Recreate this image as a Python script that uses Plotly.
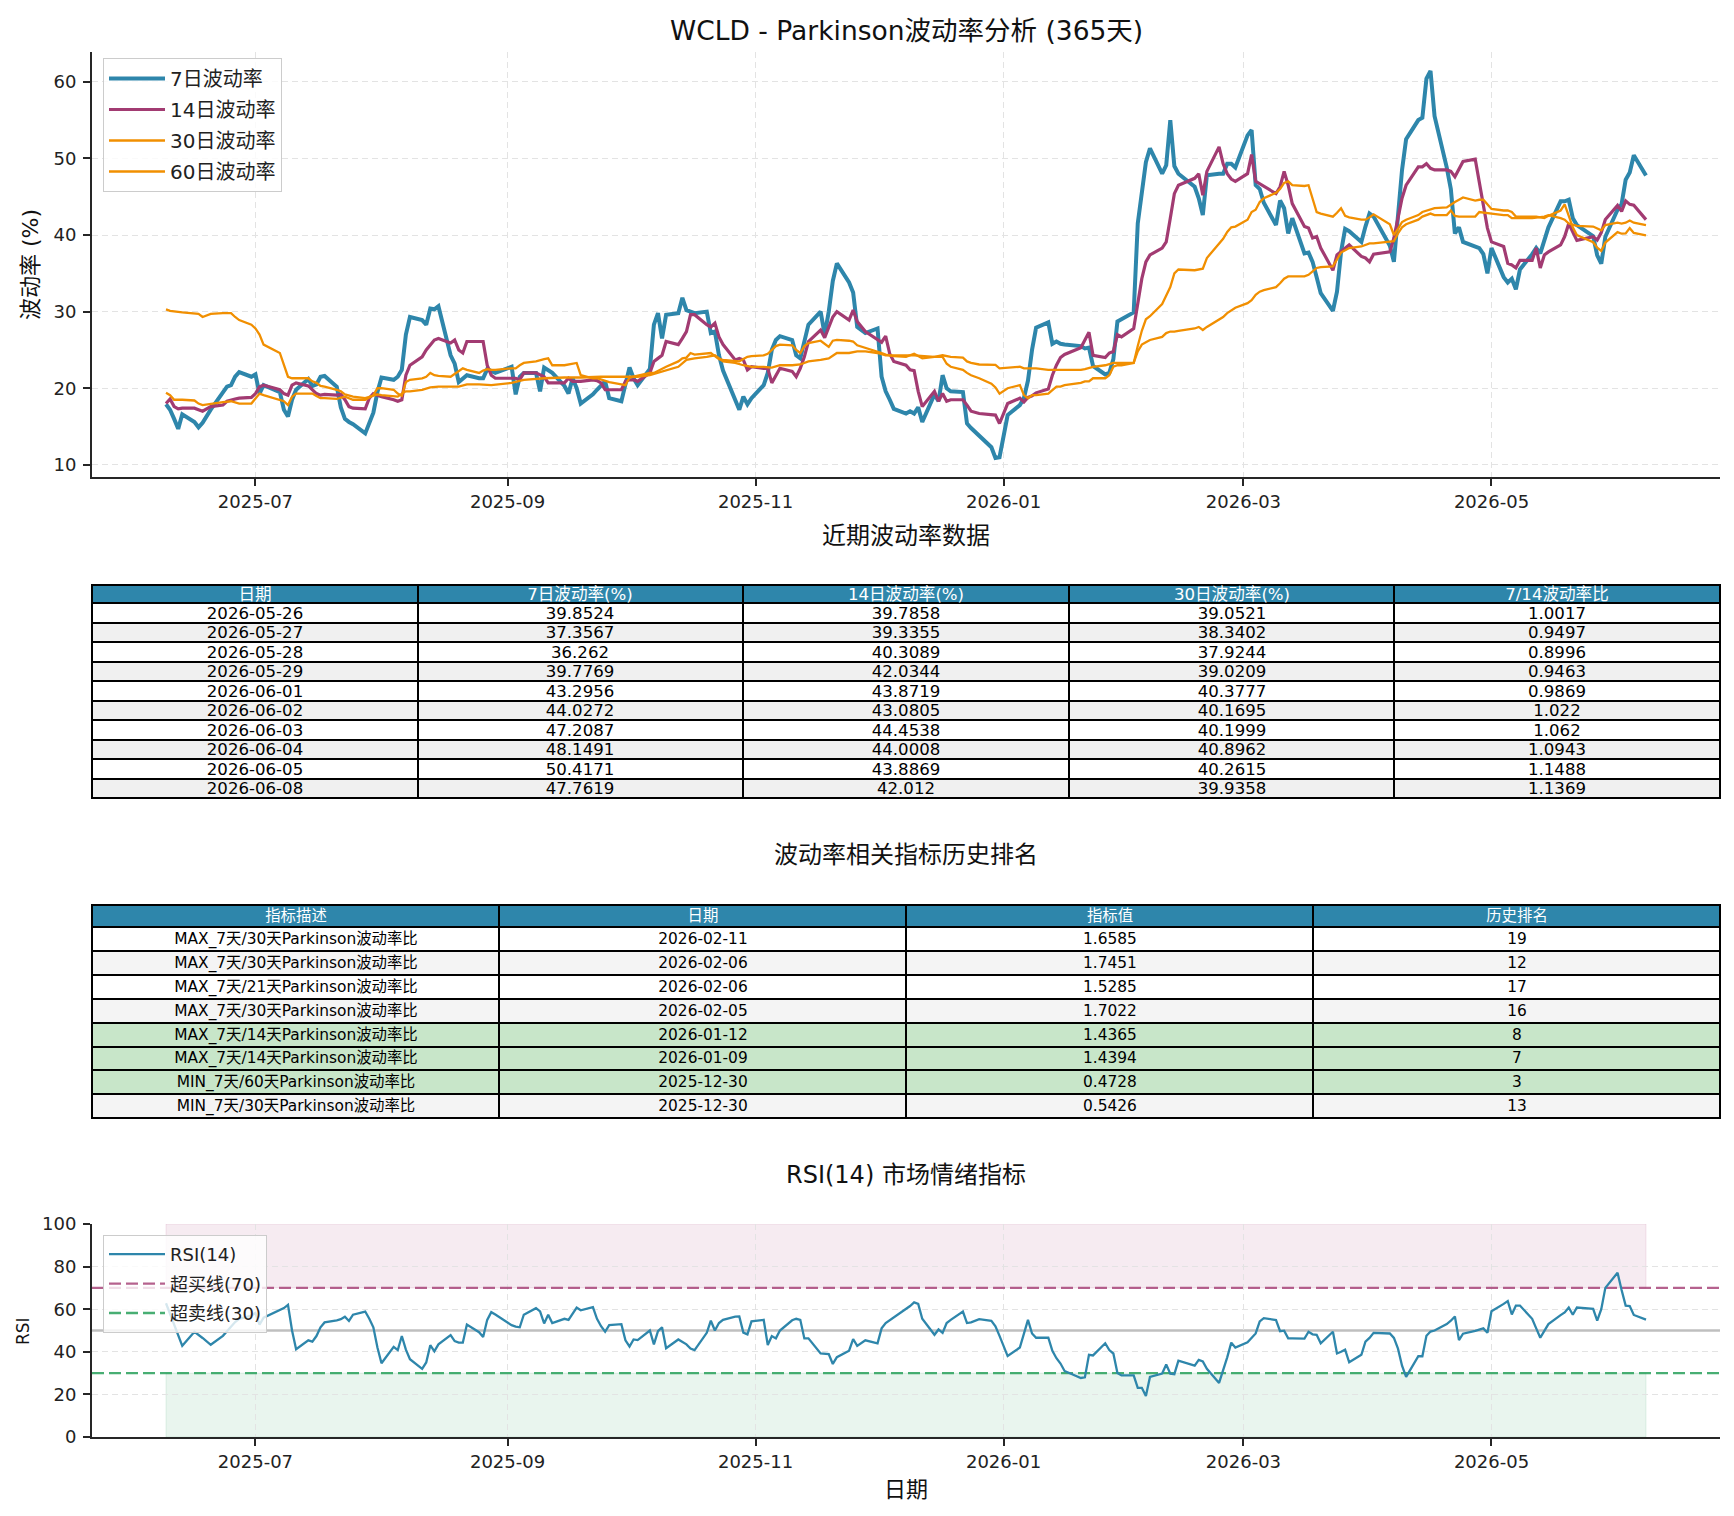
import pandas as pd
import plotly.graph_objects as go

FONT = "DejaVu Sans, Noto Sans CJK SC, sans-serif"

# ---------------- data ----------------
vol7 = [
("2025-06-09",17.9),("2025-06-10",17.2),("2025-06-11",16.0),("2025-06-12",14.7),("2025-06-13",16.6),
("2025-06-16",15.6),("2025-06-17",14.9),("2025-06-18",15.5),("2025-06-20",17.2),("2025-06-23",19.6),
("2025-06-24",20.2),("2025-06-25",20.4),("2025-06-26",21.5),("2025-06-27",22.1),("2025-06-30",21.5),
("2025-07-01",21.8),("2025-07-02",19.3),("2025-07-03",20.4),("2025-07-07",19.5),("2025-07-08",17.2),
("2025-07-09",16.3),("2025-07-10",18.5),("2025-07-11",19.8),("2025-07-14",21.2),("2025-07-15",20.3),
("2025-07-16",20.5),("2025-07-17",21.5),("2025-07-18",21.6),("2025-07-21",20.2),("2025-07-22",17.5),
("2025-07-23",16.0),("2025-07-24",15.6),("2025-07-25",15.3),("2025-07-28",14.1),("2025-07-29",15.5),
("2025-07-30",16.8),("2025-07-31",19.5),("2025-08-01",21.4),("2025-08-04",21.1),("2025-08-05",21.5),
("2025-08-06",22.4),("2025-08-07",27.0),("2025-08-08",29.3),("2025-08-11",28.9),("2025-08-12",28.3),
("2025-08-13",30.4),("2025-08-14",30.3),("2025-08-15",30.7),("2025-08-18",24.3),("2025-08-19",23.2),
("2025-08-20",20.8),("2025-08-21",21.2),("2025-08-22",21.7),("2025-08-25",21.3),("2025-08-26",21.3),
("2025-08-27",22.5),("2025-08-28",22.2),("2025-08-29",22.0),("2025-09-02",22.8),("2025-09-03",19.2),
("2025-09-04",21.5),("2025-09-05",22.0),("2025-09-08",22.0),("2025-09-09",19.6),("2025-09-10",22.7),
("2025-09-11",22.4),("2025-09-12",22.0),("2025-09-15",20.3),("2025-09-16",19.3),("2025-09-17",21.3),
("2025-09-18",20.0),("2025-09-19",18.0),("2025-09-22",19.2),("2025-09-23",19.8),("2025-09-24",20.4),
("2025-09-25",20.9),("2025-09-26",18.7),("2025-09-29",18.3),("2025-09-30",20.5),("2025-10-01",22.7),
("2025-10-02",21.3),("2025-10-03",20.4),("2025-10-06",22.5),("2025-10-07",28.3),("2025-10-08",29.8),
("2025-10-09",26.5),("2025-10-10",29.6),("2025-10-13",29.8),("2025-10-14",31.8),("2025-10-15",30.2),
("2025-10-16",30.0),("2025-10-17",29.8),("2025-10-20",30.0),("2025-10-21",27.2),("2025-10-22",27.4),
("2025-10-23",24.3),("2025-10-24",22.3),("2025-10-27",18.5),("2025-10-28",17.2),("2025-10-29",18.9),
("2025-10-30",17.9),("2025-10-31",18.7),("2025-11-03",20.4),("2025-11-04",22.0),("2025-11-05",25.0),
("2025-11-06",26.3),("2025-11-07",26.8),("2025-11-10",26.3),("2025-11-11",24.3),("2025-11-12",23.9),
("2025-11-13",26.0),("2025-11-14",28.3),("2025-11-17",30.0),("2025-11-18",27.0),("2025-11-19",30.0),
("2025-11-20",34.0),("2025-11-21",36.3),("2025-11-24",33.8),("2025-11-25",32.5),("2025-11-26",28.0),
("2025-11-28",27.2),("2025-12-01",27.8),("2025-12-02",21.5),("2025-12-03",19.6),("2025-12-04",18.5),
("2025-12-05",17.3),("2025-12-08",16.7),("2025-12-09",17.0),("2025-12-10",16.7),("2025-12-11",17.5),
("2025-12-12",15.6),("2025-12-15",19.2),("2025-12-16",18.3),("2025-12-17",21.7),("2025-12-18",20.0),
("2025-12-19",19.6),("2025-12-22",19.5),("2025-12-23",15.4),("2025-12-24",14.8),("2025-12-26",13.8),
("2025-12-29",12.3),("2025-12-30",10.9),("2025-12-31",11.0),("2026-01-02",16.5),("2026-01-05",17.8),
("2026-01-06",18.7),("2026-01-07",21.0),("2026-01-08",25.0),("2026-01-09",27.9),("2026-01-12",28.6),
("2026-01-13",25.8),("2026-01-14",26.1),("2026-01-15",25.8),("2026-01-16",25.7),("2026-01-20",25.5),
("2026-01-21",25.2),("2026-01-22",25.3),("2026-01-23",22.9),("2026-01-26",21.8),("2026-01-27",22.0),
("2026-01-28",23.8),("2026-01-29",28.7),("2026-01-30",29.0),("2026-02-02",29.9),("2026-02-03",41.5),
("2026-02-04",46.0),("2026-02-05",49.5),("2026-02-06",51.3),("2026-02-09",48.0),("2026-02-10",49.1),
("2026-02-11",55.0),("2026-02-12",49.0),("2026-02-13",48.0),("2026-02-17",46.3),("2026-02-18",44.8),
("2026-02-19",42.6),("2026-02-20",47.8),("2026-02-23",48.0),("2026-02-24",48.0),("2026-02-25",49.3),
("2026-02-26",49.3),("2026-02-27",48.8),("2026-03-02",53.0),("2026-03-03",53.7),("2026-03-04",46.5),
("2026-03-05",46.0),("2026-03-06",44.2),("2026-03-09",41.3),("2026-03-10",44.5),("2026-03-11",43.5),
("2026-03-12",40.2),("2026-03-13",42.2),("2026-03-16",37.6),("2026-03-17",37.7),("2026-03-18",36.5),
("2026-03-19",34.5),("2026-03-20",32.4),("2026-03-23",30.1),("2026-03-24",32.6),("2026-03-25",37.8),
("2026-03-26",40.8),("2026-03-27",40.5),("2026-03-30",39.1),("2026-03-31",41.1),("2026-04-01",42.8),
("2026-04-02",42.4),("2026-04-06",38.6),("2026-04-07",36.5),("2026-04-08",42.5),("2026-04-09",48.5),
("2026-04-10",52.5),("2026-04-13",55.0),("2026-04-14",55.3),("2026-04-15",60.4),("2026-04-16",61.4),
("2026-04-17",55.5),("2026-04-20",48.8),("2026-04-21",46.0),("2026-04-22",40.2),("2026-04-23",41.0),
("2026-04-24",39.1),("2026-04-27",38.6),("2026-04-28",38.3),("2026-04-29",37.5),("2026-04-30",35.0),
("2026-05-01",38.3),("2026-05-04",34.5),("2026-05-05",33.8),("2026-05-06",34.3),("2026-05-07",32.9),
("2026-05-08",35.5),("2026-05-11",37.5),("2026-05-12",38.3),("2026-05-13",37.6),("2026-05-14",39.5),
("2026-05-15",41.0),("2026-05-18",44.4),("2026-05-19",44.4),("2026-05-20",44.6),("2026-05-21",42.2),
("2026-05-22",41.3),("2026-05-26",39.8524),("2026-05-27",37.3567),("2026-05-28",36.262),
("2026-05-29",39.7769),("2026-06-01",43.2956),("2026-06-02",44.0272),("2026-06-03",47.2087),
("2026-06-04",48.1491),("2026-06-05",50.4171),("2026-06-08",47.7619),
]

vol14 = [
("2025-06-09",18.0),("2025-06-10",18.6),("2025-06-11",17.6),("2025-06-12",17.3),("2025-06-13",17.4),
("2025-06-16",17.4),("2025-06-17",17.2),("2025-06-18",17.0),("2025-06-20",17.6),("2025-06-23",17.8),
("2025-06-24",18.3),("2025-06-25",18.5),("2025-06-26",18.6),("2025-06-27",18.7),("2025-06-30",18.8),
("2025-07-01",19.3),("2025-07-02",20.2),("2025-07-03",20.4),("2025-07-07",19.8),("2025-07-08",19.3),
("2025-07-09",19.1),("2025-07-10",20.4),("2025-07-11",20.7),("2025-07-14",20.3),("2025-07-15",19.8),
("2025-07-16",19.3),("2025-07-17",19.1),("2025-07-18",19.2),("2025-07-21",19.1),("2025-07-22",19.2),
("2025-07-23",18.5),("2025-07-24",17.6),("2025-07-25",17.4),("2025-07-28",17.3),("2025-07-29",18.7),
("2025-07-30",19.3),("2025-07-31",19.1),("2025-08-01",18.9),("2025-08-04",18.5),("2025-08-05",18.3),
("2025-08-06",18.5),("2025-08-07",21.7),("2025-08-08",23.0),("2025-08-11",24.1),("2025-08-12",25.0),
("2025-08-13",25.7),("2025-08-14",26.3),("2025-08-15",26.5),("2025-08-18",25.9),("2025-08-19",26.3),
("2025-08-20",25.0),("2025-08-21",24.6),("2025-08-22",26.1),("2025-08-25",26.1),("2025-08-26",26.1),
("2025-08-27",23.0),("2025-08-28",21.7),("2025-08-29",21.3),("2025-09-02",21.3),("2025-09-03",21.3),
("2025-09-04",21.1),("2025-09-05",22.0),("2025-09-08",22.0),("2025-09-09",21.7),("2025-09-10",21.5),
("2025-09-11",20.7),("2025-09-12",20.7),("2025-09-15",20.7),("2025-09-16",21.3),("2025-09-17",20.9),
("2025-09-18",20.9),("2025-09-19",20.9),("2025-09-22",21.1),("2025-09-23",21.0),("2025-09-24",20.7),
("2025-09-25",19.8),("2025-09-26",19.8),("2025-09-29",19.8),("2025-09-30",20.9),("2025-10-01",21.1),
("2025-10-02",21.1),("2025-10-03",20.9),("2025-10-06",22.0),("2025-10-07",23.5),("2025-10-08",23.9),
("2025-10-09",24.3),("2025-10-10",26.1),("2025-10-13",25.7),("2025-10-14",26.5),("2025-10-15",27.4),
("2025-10-16",29.6),("2025-10-17",29.6),("2025-10-20",28.3),("2025-10-21",28.0),("2025-10-22",28.5),
("2025-10-23",26.7),("2025-10-24",25.7),("2025-10-27",23.7),("2025-10-28",23.9),("2025-10-29",23.7),
("2025-10-30",22.4),("2025-10-31",22.8),("2025-11-03",22.6),("2025-11-04",22.6),("2025-11-05",20.7),
("2025-11-06",21.7),("2025-11-07",22.6),("2025-11-10",22.2),("2025-11-11",21.5),("2025-11-12",22.6),
("2025-11-13",24.1),("2025-11-14",26.1),("2025-11-17",27.6),("2025-11-18",26.6),("2025-11-19",28.0),
("2025-11-20",29.3),("2025-11-21",30.0),("2025-11-24",28.9),("2025-11-25",30.2),("2025-11-26",28.7),
("2025-11-28",27.4),("2025-12-01",26.3),("2025-12-02",26.0),("2025-12-03",26.8),("2025-12-04",24.5),
("2025-12-05",23.5),("2025-12-08",23.0),("2025-12-09",22.4),("2025-12-10",22.3),("2025-12-11",19.6),
("2025-12-12",17.6),("2025-12-15",19.6),("2025-12-16",18.3),("2025-12-17",19.3),("2025-12-18",18.3),
("2025-12-19",18.5),("2025-12-22",18.5),("2025-12-23",17.8),("2025-12-24",17.0),("2025-12-26",16.7),
("2025-12-29",16.6),("2025-12-30",16.5),("2025-12-31",15.4),("2026-01-02",18.0),("2026-01-05",18.7),
("2026-01-06",18.2),("2026-01-07",18.8),("2026-01-08",19.0),("2026-01-09",19.4),("2026-01-12",19.9),
("2026-01-13",21.7),("2026-01-14",23.0),("2026-01-15",24.0),("2026-01-16",24.4),("2026-01-20",25.3),
("2026-01-21",26.3),("2026-01-22",27.3),("2026-01-23",24.3),("2026-01-26",24.0),("2026-01-27",24.6),
("2026-01-28",24.8),("2026-01-29",27.0),("2026-01-30",26.7),("2026-02-02",27.8),("2026-02-03",31.3),
("2026-02-04",34.3),("2026-02-05",36.5),("2026-02-06",37.4),("2026-02-09",38.3),("2026-02-10",39.1),
("2026-02-11",42.2),("2026-02-12",45.4),("2026-02-13",46.5),("2026-02-17",47.4),("2026-02-18",48.0),
("2026-02-19",45.2),("2026-02-20",48.3),("2026-02-23",51.5),("2026-02-24",49.3),("2026-02-25",48.0),
("2026-02-26",47.3),("2026-02-27",47.0),("2026-03-02",48.0),("2026-03-03",50.5),("2026-03-04",47.0),
("2026-03-05",46.7),("2026-03-06",46.3),("2026-03-09",45.4),("2026-03-10",46.3),("2026-03-11",48.3),
("2026-03-12",46.5),("2026-03-13",44.1),("2026-03-16",41.1),("2026-03-17",40.9),("2026-03-18",39.6),
("2026-03-19",39.8),("2026-03-20",38.3),("2026-03-23",35.4),("2026-03-24",37.4),("2026-03-25",37.8),
("2026-03-26",38.3),("2026-03-27",38.7),("2026-03-30",37.2),("2026-03-31",37.0),("2026-04-01",36.5),
("2026-04-02",37.5),("2026-04-06",37.8),("2026-04-07",39.6),("2026-04-08",42.2),("2026-04-09",44.8),
("2026-04-10",46.5),("2026-04-13",48.9),("2026-04-14",48.9),("2026-04-15",49.3),("2026-04-16",48.7),
("2026-04-17",48.5),("2026-04-20",48.5),("2026-04-21",48.3),("2026-04-22",47.6),("2026-04-23",48.5),
("2026-04-24",49.6),("2026-04-27",49.9),("2026-04-28",47.0),("2026-04-29",43.9),("2026-04-30",40.9),
("2026-05-01",39.1),("2026-05-04",38.5),("2026-05-05",36.3),("2026-05-06",36.1),("2026-05-07",35.7),
("2026-05-08",36.7),("2026-05-11",36.7),("2026-05-12",38.3),("2026-05-13",35.7),("2026-05-14",37.4),
("2026-05-15",37.8),("2026-05-18",38.7),("2026-05-19",39.8),("2026-05-20",41.5),("2026-05-21",40.4),
("2026-05-22",39.3),("2026-05-26",39.7858),("2026-05-27",39.3355),("2026-05-28",40.3089),
("2026-05-29",42.0344),("2026-06-01",43.8719),("2026-06-02",43.0805),("2026-06-03",44.4538),
("2026-06-04",44.0008),("2026-06-05",43.8869),("2026-06-08",42.012),
]

vol30 = [
("2025-06-09",19.4),("2025-06-10",19.1),("2025-06-11",18.5),("2025-06-12",18.5),("2025-06-13",18.5),
("2025-06-16",18.4),("2025-06-17",18.0),("2025-06-18",17.8),("2025-06-20",18.0),("2025-06-23",18.2),
("2025-06-25",18.3),("2025-06-27",18.0),("2025-06-30",18.0),("2025-07-01",18.7),("2025-07-02",19.3),
("2025-07-03",19.1),("2025-07-07",18.5),("2025-07-08",18.3),("2025-07-09",17.8),("2025-07-10",18.9),
("2025-07-11",19.3),("2025-07-14",19.3),("2025-07-15",19.3),("2025-07-16",19.0),("2025-07-17",18.7),
("2025-07-18",18.7),("2025-07-21",18.6),("2025-07-23",18.9),("2025-07-24",18.7),("2025-07-25",18.5),
("2025-07-28",18.5),("2025-07-29",18.8),("2025-07-30",19.1),("2025-07-31",20.0),("2025-08-01",20.0),
("2025-08-04",19.8),("2025-08-05",19.3),("2025-08-06",19.0),("2025-08-07",20.8),("2025-08-08",21.1),
("2025-08-11",21.3),("2025-08-12",21.5),("2025-08-13",22.0),("2025-08-14",21.7),("2025-08-15",21.6),
("2025-08-18",21.5),("2025-08-19",21.9),("2025-08-20",22.3),("2025-08-21",22.6),("2025-08-22",22.4),
("2025-08-25",22.0),("2025-08-26",22.3),("2025-08-27",22.5),("2025-08-28",22.4),("2025-08-29",22.4),
("2025-09-02",22.6),("2025-09-03",22.6),("2025-09-04",23.0),("2025-09-05",23.3),("2025-09-08",23.5),
("2025-09-09",23.7),("2025-09-10",23.8),("2025-09-11",23.9),("2025-09-12",23.0),("2025-09-15",23.0),
("2025-09-16",23.1),("2025-09-17",23.2),("2025-09-18",23.3),("2025-09-19",21.7),("2025-09-22",21.3),
("2025-09-23",21.3),("2025-09-24",21.1),("2025-09-25",20.9),("2025-09-26",20.8),("2025-09-29",20.5),
("2025-09-30",20.4),("2025-10-01",21.4),("2025-10-02",21.5),("2025-10-03",21.7),("2025-10-06",22.0),
("2025-10-07",22.0),("2025-10-08",22.3),("2025-10-09",22.6),("2025-10-10",22.8),("2025-10-13",23.5),
("2025-10-14",23.9),("2025-10-15",24.0),("2025-10-16",24.6),("2025-10-17",24.4),("2025-10-20",24.5),
("2025-10-21",24.6),("2025-10-22",24.2),("2025-10-23",23.8),("2025-10-24",23.7),("2025-10-27",23.5),
("2025-10-28",23.5),("2025-10-29",23.8),("2025-10-30",24.1),("2025-10-31",24.2),("2025-11-03",24.3),
("2025-11-04",24.5),("2025-11-05",25.0),("2025-11-06",25.5),("2025-11-07",25.7),("2025-11-10",25.6),
("2025-11-11",25.0),("2025-11-12",24.6),("2025-11-13",25.5),("2025-11-14",25.9),("2025-11-17",26.2),
("2025-11-18",25.8),("2025-11-19",25.4),("2025-11-20",26.2),("2025-11-21",26.3),("2025-11-24",26.2),
("2025-11-25",26.1),("2025-11-26",25.6),("2025-11-28",25.3),("2025-12-01",24.8),("2025-12-02",24.6),
("2025-12-03",24.4),("2025-12-04",24.3),("2025-12-05",24.2),("2025-12-08",24.1),("2025-12-10",24.5),
("2025-12-12",23.9),("2025-12-15",24.1),("2025-12-17",24.1),("2025-12-18",23.2),("2025-12-19",22.8),
("2025-12-22",22.4),("2025-12-23",22.0),("2025-12-24",21.7),("2025-12-26",21.3),("2025-12-29",20.6),
("2025-12-30",20.1),("2025-12-31",19.3),("2026-01-02",20.0),("2026-01-05",20.4),("2026-01-06",19.1),
("2026-01-07",18.7),("2026-01-08",19.1),("2026-01-09",19.1),("2026-01-12",19.3),("2026-01-13",19.8),
("2026-01-14",20.2),("2026-01-15",20.2),("2026-01-16",20.4),("2026-01-20",20.7),("2026-01-21",20.9),
("2026-01-22",20.9),("2026-01-23",21.3),("2026-01-26",21.3),("2026-01-27",21.7),("2026-01-28",22.8),
("2026-01-29",23.0),("2026-01-30",23.0),("2026-02-02",23.3),("2026-02-03",25.5),("2026-02-04",27.5),
("2026-02-05",29.0),("2026-02-06",29.4),("2026-02-09",31.0),("2026-02-10",32.0),("2026-02-11",33.2),
("2026-02-12",35.0),("2026-02-13",35.5),("2026-02-17",35.4),("2026-02-18",35.5),("2026-02-19",35.6),
("2026-02-20",37.0),("2026-02-23",38.9),("2026-02-24",39.5),("2026-02-25",40.4),("2026-02-26",41.0),
("2026-02-27",41.1),("2026-03-02",42.0),("2026-03-03",43.0),("2026-03-04",43.3),("2026-03-05",44.3),
("2026-03-06",44.8),("2026-03-09",45.5),("2026-03-10",46.0),("2026-03-11",46.8),("2026-03-12",47.0),
("2026-03-13",46.5),("2026-03-16",46.4),("2026-03-17",46.5),("2026-03-18",44.6),("2026-03-19",43.0),
("2026-03-20",42.8),("2026-03-23",42.4),("2026-03-24",42.9),("2026-03-25",43.5),("2026-03-26",42.5),
("2026-03-27",42.3),("2026-03-30",42.0),("2026-03-31",42.0),("2026-04-01",42.3),("2026-04-02",42.7),
("2026-04-06",41.4),("2026-04-07",40.0),("2026-04-08",40.8),("2026-04-09",41.7),("2026-04-10",42.0),
("2026-04-13",42.6),("2026-04-14",43.0),("2026-04-15",43.2),("2026-04-16",43.4),("2026-04-17",43.5),
("2026-04-20",43.6),("2026-04-21",44.0),("2026-04-22",44.3),("2026-04-23",44.6),("2026-04-24",44.9),
("2026-04-27",44.5),("2026-04-28",44.6),("2026-04-29",44.6),("2026-04-30",44.0),("2026-05-01",43.4),
("2026-05-04",43.2),("2026-05-05",43.2),("2026-05-06",43.0),("2026-05-07",42.4),("2026-05-08",42.4),
("2026-05-11",42.4),("2026-05-12",42.4),("2026-05-13",42.3),("2026-05-14",42.2),("2026-05-15",42.5),
("2026-05-18",43.2),("2026-05-19",44.0),("2026-05-20",42.5),("2026-05-21",41.0),("2026-05-22",40.0),
("2026-05-26",39.0521),("2026-05-27",38.3402),("2026-05-28",37.9244),("2026-05-29",39.0209),
("2026-06-01",40.3777),("2026-06-02",40.1695),("2026-06-03",40.1999),("2026-06-04",40.8962),
("2026-06-05",40.2615),("2026-06-08",39.9358),
]

vol60 = [
("2025-06-09",30.3),("2025-06-10",30.1),("2025-06-13",29.9),("2025-06-17",29.7),("2025-06-18",29.3),
("2025-06-20",29.7),("2025-06-23",29.8),("2025-06-25",29.8),("2025-06-26",29.3),("2025-06-27",28.9),
("2025-06-30",28.3),("2025-07-01",27.8),("2025-07-02",27.0),("2025-07-03",25.7),("2025-07-07",24.6),
("2025-07-08",23.0),("2025-07-09",21.5),("2025-07-10",21.3),("2025-07-11",21.3),("2025-07-14",21.3),
("2025-07-15",20.9),("2025-07-16",20.7),("2025-07-17",20.3),("2025-07-18",20.2),("2025-07-21",19.8),
("2025-07-22",19.6),("2025-07-23",19.2),("2025-07-24",19.0),("2025-07-25",18.9),("2025-07-28",18.7),
("2025-07-29",18.9),("2025-07-30",19.1),("2025-07-31",19.2),("2025-08-01",19.1),("2025-08-04",19.0),
("2025-08-05",18.9),("2025-08-06",19.3),("2025-08-07",19.6),("2025-08-08",19.6),("2025-08-11",19.8),
("2025-08-13",20.1),("2025-08-15",20.2),("2025-08-18",20.2),("2025-08-20",20.2),("2025-08-22",20.5),
("2025-08-25",20.5),("2025-08-28",20.4),("2025-09-02",20.7),("2025-09-05",21.1),("2025-09-10",21.3),
("2025-09-15",21.4),("2025-09-19",21.4),("2025-09-24",21.5),("2025-09-29",21.5),("2025-10-03",21.5),
("2025-10-06",21.7),("2025-10-08",22.0),("2025-10-10",22.4),("2025-10-13",22.8),("2025-10-15",23.7),
("2025-10-17",23.9),("2025-10-20",24.1),("2025-10-22",24.3),("2025-10-24",23.5),("2025-10-27",23.3),
("2025-10-29",23.0),("2025-10-31",22.8),("2025-11-03",22.8),("2025-11-05",22.7),("2025-11-07",23.0),
("2025-11-10",23.0),("2025-11-12",23.1),("2025-11-14",23.5),("2025-11-17",23.7),("2025-11-19",23.9),
("2025-11-21",24.6),("2025-11-24",24.6),("2025-11-26",24.8),("2025-11-28",24.8),("2025-12-01",24.6),
("2025-12-03",24.3),("2025-12-05",24.3),("2025-12-10",24.3),("2025-12-15",24.1),("2025-12-17",24.3),
("2025-12-19",24.1),("2025-12-22",24.0),("2025-12-23",23.5),("2025-12-24",23.3),("2025-12-26",23.1),
("2025-12-29",23.0),("2025-12-30",23.05),("2025-12-31",22.6),("2026-01-02",22.7),("2026-01-05",22.8),
("2026-01-06",22.6),("2026-01-09",22.6),("2026-01-12",22.4),("2026-01-16",22.4),("2026-01-20",22.4),
("2026-01-21",22.5),("2026-01-23",22.8),("2026-01-26",23.0),("2026-01-28",23.3),("2026-01-30",23.3),
("2026-02-02",23.3),("2026-02-03",24.8),("2026-02-04",25.7),("2026-02-05",26.0),("2026-02-06",26.3),
("2026-02-09",26.7),("2026-02-10",27.2),("2026-02-11",27.4),("2026-02-12",27.4),("2026-02-13",27.5),
("2026-02-17",27.8),("2026-02-18",28.0),("2026-02-19",27.6),("2026-02-20",28.0),("2026-02-23",28.9),
("2026-02-24",29.3),("2026-02-25",29.8),("2026-02-26",30.2),("2026-02-27",30.5),("2026-03-02",31.1),
("2026-03-03",31.5),("2026-03-04",32.2),("2026-03-05",32.6),("2026-03-06",32.8),("2026-03-09",33.2),
("2026-03-10",33.7),("2026-03-11",34.3),("2026-03-12",34.6),("2026-03-13",34.6),("2026-03-16",34.6),
("2026-03-17",34.8),("2026-03-18",35.2),("2026-03-19",35.7),("2026-03-20",35.8),("2026-03-23",35.9),
("2026-03-24",36.8),("2026-03-25",37.7),("2026-03-26",38.0),("2026-03-27",38.3),("2026-03-30",38.5),
("2026-03-31",38.7),("2026-04-01",38.9),("2026-04-02",38.9),("2026-04-06",39.1),("2026-04-07",39.2),
("2026-04-08",40.2),("2026-04-09",41.0),("2026-04-10",41.4),("2026-04-13",42.0),("2026-04-14",42.4),
("2026-04-15",42.6),("2026-04-16",42.8),("2026-04-17",42.6),("2026-04-20",42.6),("2026-04-21",43.2),
("2026-04-22",42.5),("2026-04-23",42.4),("2026-04-24",42.4),("2026-04-27",42.4),("2026-04-28",43.0),
("2026-04-29",42.9),("2026-04-30",42.8),("2026-05-01",42.8),("2026-05-04",42.6),("2026-05-05",42.6),
("2026-05-06",42.2),("2026-05-07",42.2),("2026-05-11",42.2),("2026-05-14",42.4),("2026-05-15",42.6),
("2026-05-18",42.2),("2026-05-19",42.0),("2026-05-20",41.5),("2026-05-21",41.3),("2026-05-22",41.2),
("2026-05-26",41.1),("2026-05-27",40.8),("2026-05-28",40.6),("2026-05-29",41.3),("2026-06-01",41.6),
("2026-06-02",41.5),("2026-06-03",41.6),("2026-06-04",41.9),("2026-06-05",41.6),("2026-06-08",41.3),
]

rsi14 = [
("2025-06-09",62.8),("2025-06-10",58.0),("2025-06-11",53.0),("2025-06-12",48.0),("2025-06-13",42.8),
("2025-06-16",49.4),("2025-06-17",48.0),("2025-06-18",46.5),("2025-06-20",43.3),("2025-06-23",47.5),
("2025-06-24",49.7),("2025-06-25",52.0),("2025-06-26",54.0),("2025-06-27",55.5),("2025-06-30",57.0),
("2025-07-01",58.2),("2025-07-02",52.8),("2025-07-03",56.0),("2025-07-07",59.5),("2025-07-08",60.5),
("2025-07-09",62.0),("2025-07-10",50.0),("2025-07-11",41.2),("2025-07-14",45.4),("2025-07-15",44.8),
("2025-07-16",47.4),("2025-07-17",51.5),("2025-07-18",53.8),("2025-07-21",54.8),("2025-07-22",55.3),
("2025-07-23",56.5),("2025-07-24",54.5),("2025-07-25",57.4),("2025-07-28",58.9),("2025-07-29",55.5),
("2025-07-30",51.5),("2025-07-31",42.0),("2025-08-01",34.6),("2025-08-04",42.3),("2025-08-05",40.8),
("2025-08-06",47.4),("2025-08-07",41.0),("2025-08-08",36.5),("2025-08-11",32.0),("2025-08-12",35.0),
("2025-08-13",43.1),("2025-08-14",40.2),("2025-08-15",43.5),("2025-08-18",47.8),("2025-08-19",45.0),
("2025-08-20",44.3),("2025-08-21",44.3),("2025-08-22",52.8),("2025-08-25",49.2),("2025-08-26",46.9),
("2025-08-27",55.0),("2025-08-28",58.6),("2025-08-29",57.5),("2025-09-02",52.5),("2025-09-03",51.8),
("2025-09-04",51.5),("2025-09-05",57.4),("2025-09-08",60.5),("2025-09-09",59.0),("2025-09-10",53.3),
("2025-09-11",57.4),("2025-09-12",53.5),("2025-09-15",55.5),("2025-09-16",55.0),("2025-09-17",58.0),
("2025-09-18",60.8),("2025-09-19",59.5),("2025-09-22",61.0),("2025-09-23",55.5),("2025-09-24",52.0),
("2025-09-25",49.4),("2025-09-26",52.5),("2025-09-29",53.0),("2025-09-30",45.4),("2025-10-01",42.5),
("2025-10-02",45.8),("2025-10-03",45.5),("2025-10-06",50.0),("2025-10-07",43.5),("2025-10-08",49.7),
("2025-10-09",51.5),("2025-10-10",41.7),("2025-10-13",45.8),("2025-10-14",44.5),("2025-10-15",43.5),
("2025-10-16",41.5),("2025-10-17",40.8),("2025-10-20",48.9),("2025-10-21",54.6),("2025-10-22",50.0),
("2025-10-23",53.5),("2025-10-24",55.0),("2025-10-27",56.5),("2025-10-28",56.6),("2025-10-29",49.0),
("2025-10-30",48.2),("2025-10-31",54.3),("2025-11-03",55.0),("2025-11-04",43.2),("2025-11-05",47.4),
("2025-11-06",46.3),("2025-11-07",50.0),("2025-11-10",54.8),("2025-11-11",55.5),("2025-11-12",55.0),
("2025-11-13",46.3),("2025-11-14",46.3),("2025-11-17",39.2),("2025-11-18",38.9),("2025-11-19",38.9),
("2025-11-20",34.3),("2025-11-21",37.5),("2025-11-24",40.5),("2025-11-25",46.0),("2025-11-26",42.8),
("2025-11-28",45.4),("2025-12-01",44.0),("2025-12-02",51.0),("2025-12-03",53.5),("2025-12-04",54.8),
("2025-12-05",56.0),("2025-12-08",60.0),("2025-12-09",61.5),("2025-12-10",63.2),("2025-12-11",62.5),
("2025-12-12",55.5),("2025-12-15",48.0),("2025-12-16",50.5),("2025-12-17",48.9),("2025-12-18",53.5),
("2025-12-19",55.0),("2025-12-22",58.9),("2025-12-23",53.5),("2025-12-24",53.8),("2025-12-26",55.3),
("2025-12-29",54.5),("2025-12-30",52.0),("2025-12-31",47.5),("2026-01-02",38.0),("2026-01-05",42.0),
("2026-01-06",49.0),("2026-01-07",55.0),("2026-01-08",48.6),("2026-01-09",46.6),("2026-01-12",46.6),
("2026-01-13",40.5),("2026-01-14",37.0),("2026-01-15",34.5),("2026-01-16",31.0),("2026-01-20",27.7),
("2026-01-21",28.0),("2026-01-22",38.6),("2026-01-23",38.3),("2026-01-26",44.0),("2026-01-27",40.8),
("2026-01-28",39.2),("2026-01-29",30.0),("2026-01-30",28.9),("2026-02-02",28.9),("2026-02-03",23.1),
("2026-02-04",23.1),("2026-02-05",19.2),("2026-02-06",28.2),("2026-02-09",29.8),("2026-02-10",34.0),
("2026-02-11",29.7),("2026-02-12",29.5),("2026-02-13",35.8),("2026-02-17",33.5),("2026-02-18",36.2),
("2026-02-19",35.5),("2026-02-20",32.0),("2026-02-23",25.4),("2026-02-24",31.0),("2026-02-25",37.4),
("2026-02-26",44.3),("2026-02-27",42.0),("2026-03-02",44.5),("2026-03-03",46.5),("2026-03-04",48.6),
("2026-03-05",54.3),("2026-03-06",55.8),("2026-03-09",54.9),("2026-03-10",49.7),("2026-03-11",49.9),
("2026-03-12",46.3),("2026-03-13",46.3),("2026-03-16",46.2),("2026-03-17",49.4),("2026-03-18",48.2),
("2026-03-19",48.0),("2026-03-20",44.0),("2026-03-23",49.4),("2026-03-24",39.2),("2026-03-25",40.0),
("2026-03-26",41.0),("2026-03-27",35.1),("2026-03-30",38.6),("2026-03-31",44.8),("2026-04-01",46.5),
("2026-04-02",48.9),("2026-04-06",48.6),("2026-04-07",46.5),("2026-04-08",41.5),("2026-04-09",33.5),
("2026-04-10",28.2),("2026-04-13",38.0),("2026-04-14",37.9),("2026-04-15",47.5),("2026-04-16",49.5),
("2026-04-17",50.0),("2026-04-20",53.0),("2026-04-21",54.6),("2026-04-22",56.6),("2026-04-23",45.5),
("2026-04-24",48.5),("2026-04-27",49.8),("2026-04-28",50.5),("2026-04-29",51.0),("2026-04-30",48.9),
("2026-05-01",59.0),("2026-05-04",62.5),("2026-05-05",63.8),("2026-05-06",57.5),("2026-05-07",61.7),
("2026-05-08",61.7),("2026-05-11",55.5),("2026-05-12",51.0),("2026-05-13",46.6),("2026-05-14",49.8),
("2026-05-15",53.0),("2026-05-18",57.2),("2026-05-19",58.5),("2026-05-20",60.8),("2026-05-21",57.4),
("2026-05-22",60.8),("2026-05-26",60.2),("2026-05-27",54.6),("2026-05-28",60.0),("2026-05-29",70.0),
("2026-06-01",77.1),("2026-06-02",69.0),("2026-06-03",61.7),("2026-06-04",61.5),("2026-06-05",57.3),
("2026-06-08",55.1),
]

x_tick_months = ["2025-07", "2025-09", "2025-11", "2026-01", "2026-03", "2026-05"]
vol_yticks = [10, 20, 30, 40, 50, 60]
rsi_yticks = [0, 20, 40, 60, 80, 100]
RSI_OVERBOUGHT = 70
RSI_OVERSOLD = 30
RSI_MID = 50

table1_header = ["日期", "7日波动率(%)", "14日波动率(%)", "30日波动率(%)", "7/14波动率比"]
table1_dates = ["2026-05-26", "2026-05-27", "2026-05-28", "2026-05-29", "2026-06-01",
                "2026-06-02", "2026-06-03", "2026-06-04", "2026-06-05", "2026-06-08"]
table1_v7 = [39.8524, 37.3567, 36.262, 39.7769, 43.2956, 44.0272, 47.2087, 48.1491, 50.4171, 47.7619]
table1_v14 = [39.7858, 39.3355, 40.3089, 42.0344, 43.8719, 43.0805, 44.4538, 44.0008, 43.8869, 42.012]
table1_v30 = [39.0521, 38.3402, 37.9244, 39.0209, 40.3777, 40.1695, 40.1999, 40.8962, 40.2615, 39.9358]
table1_ratio = [1.0017, 0.9497, 0.8996, 0.9463, 0.9869, 1.022, 1.062, 1.0943, 1.1488, 1.1369]

table2_header = ["指标描述", "日期", "指标值", "历史排名"]
rank_desc = ["MAX_7天/30天Parkinson波动率比", "MAX_7天/30天Parkinson波动率比",
             "MAX_7天/21天Parkinson波动率比", "MAX_7天/30天Parkinson波动率比",
             "MAX_7天/14天Parkinson波动率比", "MAX_7天/14天Parkinson波动率比",
             "MIN_7天/60天Parkinson波动率比", "MIN_7天/30天Parkinson波动率比"]
rank_dates = ["2026-02-11", "2026-02-06", "2026-02-06", "2026-02-05",
              "2026-01-12", "2026-01-09", "2025-12-30", "2025-12-30"]
rank_values = [1.6585, 1.7451, 1.5285, 1.7022, 1.4365, 1.4394, 0.4728, 0.5426]
rank_ranks = [19, 12, 17, 16, 8, 7, 3, 13]
TOP_RANK = 10   # ranks at or below this are highlighted

# ---------------- styles ----------------
W, H = 1734, 1516
C7, C14, C30, C60 = "#2E86AB", "#A23B72", "#F18F01", "#F18F01"
GRID = "#e3e3e3"
AXC = "#262626"

def px_x(v):
    return v / W

def px_y(v):
    return 1 - v / H

def unzip(pairs):
    return [pd.Timestamp(d) for d, _ in pairs], [v for _, v in pairs]

x7, y7 = unzip(vol7)
x14, y14 = unzip(vol14)
x30, y30 = unzip(vol30)
x60, y60 = unzip(vol60)
xr, yr = unzip(rsi14)

dmin = min(x7 + x14 + x30 + x60)
dmax = max(x7 + x14 + x30 + x60)
span = dmax - dmin
xrange_ = [dmin - span * 0.05, dmax + span * 0.05]

allv = y7 + y14 + y30 + y60
vmin, vmax = min(allv), max(allv)
vspan = vmax - vmin
yrange_ = [vmin - vspan * 0.05, vmax + vspan * 0.05]

tickvals = [pd.Timestamp(m + "-01") for m in x_tick_months]

fig = go.Figure()

# main volatility lines
main_series = [("7日波动率", x7, y7, C7, 4.0), ("14日波动率", x14, y14, C14, 3.2),
               ("30日波动率", x30, y30, C30, 2.3), ("60日波动率", x60, y60, C60, 2.3)]
for i, (name, xs, ys, col, wd) in enumerate(main_series):
    fig.add_trace(go.Scatter(x=xs, y=ys, mode="lines", name=name, line=dict(color=col, width=wd),
                             xaxis="x", yaxis="y", legend="legend", legendgroup="m%d" % i))

# RSI
GREEN = "rgba(40,160,90,0.85)"
PINK = "rgba(162,59,114,0.8)"
fig.add_shape(type="rect", xref="x2", yref="y2", x0=xr[0], x1=xr[-1], y0=RSI_OVERBOUGHT, y1=100,
              fillcolor="rgba(162,59,114,0.1)", line=dict(width=1, color="rgba(162,59,114,0.12)"), layer="below")
fig.add_shape(type="rect", xref="x2", yref="y2", x0=xr[0], x1=xr[-1], y0=0, y1=RSI_OVERSOLD,
              fillcolor="rgba(40,160,90,0.1)", line=dict(width=1, color="rgba(40,160,90,0.12)"), layer="below")
fig.add_shape(type="line", xref="x2 domain", yref="y2", x0=0, x1=1, y0=RSI_MID, y1=RSI_MID,
              line=dict(color="rgba(128,128,128,0.5)", width=2.6), layer="below")

fig.add_trace(go.Scatter(x=xrange_, y=[RSI_OVERBOUGHT] * 2, mode="lines", name="超买线(70)",
                         line=dict(color=PINK, width=2.4, dash="12px,5px"), xaxis="x2", yaxis="y2",
                         legend="legend2", legendrank=2, legendgroup="r2", hoverinfo="skip"))
fig.add_trace(go.Scatter(x=xrange_, y=[RSI_OVERSOLD] * 2, mode="lines", name="超卖线(30)",
                         line=dict(color=GREEN, width=2.4, dash="12px,5px"), xaxis="x2", yaxis="y2",
                         legend="legend2", legendrank=3, legendgroup="r3", hoverinfo="skip"))
fig.add_trace(go.Scatter(x=xr, y=yr, mode="lines", name="RSI(14)",
                         line=dict(color=C7, width=2.3), xaxis="x2", yaxis="y2",
                         legend="legend2", legendrank=1, legendgroup="r1"))

# ---------------- tables (cell grids drawn on their own hidden axes) ----------------
def add_table(xa, ya, header, columns, fill_idx, colorscale, zmax, header_h, row_h, fsize):
    ncol = len(header)
    nrow = len(columns[0])
    x_edges = list(range(ncol + 1))
    body_edges = [header_h + i * row_h for i in range(nrow + 1)]
    # black backing so that the cell gaps read as grid lines
    fig.add_shape(type="rect", xref=xa + " domain", yref=ya + " domain", x0=0, x1=1, y0=0, y1=1,
                  fillcolor="black", line=dict(width=0), layer="below")
    fig.add_trace(go.Heatmap(z=[[0] * ncol], x=x_edges, y=[0, header_h], text=[header],
                             texttemplate="%{text}", textfont=dict(color="white", size=fsize, family=FONT),
                             colorscale=[[0, C7], [1, C7]], zmin=0, zmax=1, showscale=False,
                             xgap=2, ygap=2, hoverinfo="skip", xaxis=xa, yaxis=ya))
    body_text = [[str(col[r]) for col in columns] for r in range(nrow)]
    body_z = [[fill_idx[r]] * ncol for r in range(nrow)]
    fig.add_trace(go.Heatmap(z=body_z, x=x_edges, y=body_edges, text=body_text,
                             texttemplate="%{text}", textfont=dict(color="black", size=fsize, family=FONT),
                             colorscale=colorscale, zmin=0, zmax=zmax, showscale=False,
                             xgap=2, ygap=2, hoverinfo="skip", xaxis=xa, yaxis=ya))
    return ncol, body_edges[-1]

t1_fill = [i % 2 for i in range(len(table1_dates))]
t1_ncol, t1_h = add_table("x3", "y3", table1_header,
                          [table1_dates, table1_v7, table1_v14, table1_v30, table1_ratio],
                          t1_fill, [[0, "#ffffff"], [1, "#f0f0f0"]], 1, 18, 19.5, 16.6)

t2_fill = [2 if r <= TOP_RANK else i % 2 for i, r in enumerate(rank_ranks)]
t2_ncol, t2_h = add_table("x4", "y4", table2_header,
                          [rank_desc, rank_dates, rank_values, rank_ranks],
                          t2_fill, [[0, "#ffffff"], [0.5, "#f4f4f4"], [1, "#c8e6c9"]], 2, 22, 23.9, 15.4)

# ---------------- layout ----------------
axis_common = dict(showline=True, linecolor=AXC, linewidth=2, ticks="outside", ticklen=7,
                   tickwidth=1.6, tickcolor=AXC, showgrid=True, gridcolor=GRID, gridwidth=1.2,
                   griddash="6px,4px", zeroline=False, tickfont=dict(size=18, color="#222", family=FONT),
                   mirror=False)
table_axis = dict(showline=True, mirror=True, linecolor="black", linewidth=1.2, showgrid=False,
                  zeroline=False, showticklabels=False, ticks="", fixedrange=True)

fig.update_layout(
    width=W, height=H, margin=dict(l=0, r=0, t=0, b=0, autoexpand=False),
    paper_bgcolor="white", plot_bgcolor="white",
    font=dict(family=FONT, color="#222"),
    xaxis=dict(domain=[px_x(92), px_x(1720)], anchor="y", type="date", range=xrange_,
               tickvals=tickvals, ticktext=x_tick_months, **axis_common),
    yaxis=dict(domain=[px_y(477.3), px_y(51.7)], anchor="x", range=yrange_, tickvals=vol_yticks,
               ticklabelstandoff=3, **axis_common),
    xaxis2=dict(domain=[px_x(92), px_x(1720)], anchor="y2", type="date", range=xrange_,
                tickvals=tickvals, ticktext=x_tick_months, **axis_common),
    yaxis2=dict(domain=[px_y(1437), px_y(1224)], anchor="x2", range=[0, 100], tickvals=rsi_yticks,
                ticklabelstandoff=3, **axis_common),
    xaxis3=dict(domain=[px_x(92), px_x(1720)], anchor="y3", range=[0, t1_ncol], **table_axis),
    yaxis3=dict(domain=[px_y(585 + t1_h), px_y(585)], anchor="x3", range=[t1_h, 0], **table_axis),
    xaxis4=dict(domain=[px_x(92), px_x(1720)], anchor="y4", range=[0, t2_ncol], **table_axis),
    yaxis4=dict(domain=[px_y(905 + t2_h), px_y(905)], anchor="x4", range=[t2_h, 0], **table_axis),
    legend=dict(x=px_x(103), y=px_y(58), xanchor="left", yanchor="top", itemwidth=56,
                bgcolor="rgba(255,255,255,0.8)", bordercolor="#cccccc", borderwidth=1,
                font=dict(size=20, family=FONT, color="#222"), tracegroupgap=2),
    legend2=dict(x=px_x(103), y=px_y(1235), xanchor="left", yanchor="top", itemwidth=56,
                 bgcolor="rgba(255,255,255,0.8)", bordercolor="#cccccc", borderwidth=1,
                 font=dict(size=18, family=FONT, color="#222"), tracegroupgap=3),
    showlegend=True,
)

annos = [
    dict(text="WCLD - Parkinson波动率分析 (365天)", x=px_x(906), y=px_y(30), size=26.5),
    dict(text="近期波动率数据", x=px_x(906), y=px_y(536), size=24),
    dict(text="波动率相关指标历史排名", x=px_x(906), y=px_y(855), size=24),
    dict(text="RSI(14) 市场情绪指标", x=px_x(906), y=px_y(1175), size=24),
    dict(text="日期", x=px_x(906), y=px_y(1489), size=22),
]
for a in annos:
    fig.add_annotation(text=a["text"], x=a["x"], y=a["y"], xref="paper", yref="paper",
                       xanchor="center", yanchor="middle", showarrow=False,
                       font=dict(size=a["size"], family=FONT, color="#111"))
fig.add_annotation(text="波动率 (%)", x=px_x(30), y=px_y(265), xref="paper", yref="paper",
                   xanchor="center", yanchor="middle", showarrow=False, textangle=-90,
                   font=dict(size=22, family=FONT, color="#111"))
fig.add_annotation(text="RSI", x=px_x(23), y=px_y(1331), xref="paper", yref="paper",
                   xanchor="center", yanchor="middle", showarrow=False, textangle=-90,
                   font=dict(size=17, family=FONT, color="#111"))

fig.write_html("out.html")
